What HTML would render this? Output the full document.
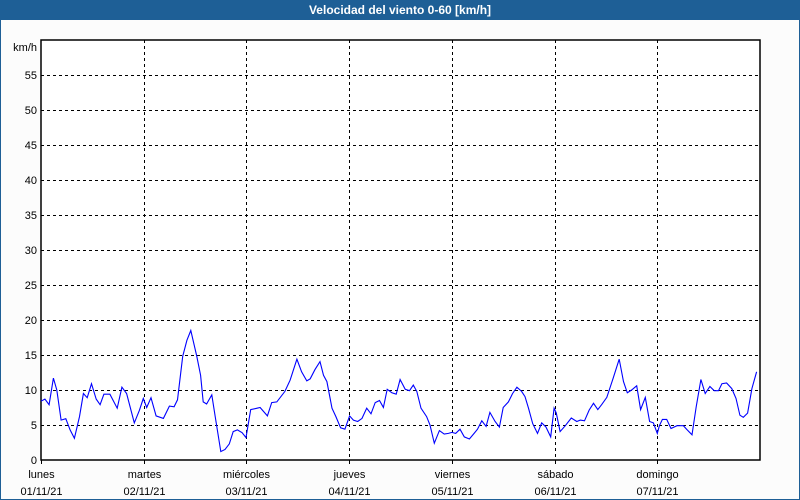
<!DOCTYPE html>
<html><head><meta charset="utf-8"><style>
body{margin:0;width:800px;height:500px;overflow:hidden;background:#fff;font-family:"Liberation Sans",sans-serif}
#win{position:absolute;left:0;top:0;width:798px;height:498px;border:1px solid #1e5f96;background:#fcfcfc}
#title{position:absolute;left:0;top:0;width:800px;height:20px;background:#1e5f96;color:#fff;font-weight:bold;font-size:12px;text-align:center;line-height:20px}
</style></head><body>
<div id="win"></div>
<div id="title">Velocidad del viento 0-60 [km/h]</div>
<svg id="chart" width="800" height="500" style="position:absolute;left:0;top:0"></svg>
<script>
const hours=[0,0.9,1.9,2.9,3.7,4.7,5.8,6.8,7.8,9.0,9.9,10.8,11.8,12.9,13.8,14.7,16.1,17.8,18.9,20.0,21.8,23.0,23.9,24.7,25.7,26.9,28.6,30.0,31.1,31.9,33.1,34.1,35.0,36.4,37.3,37.9,38.7,39.9,40.7,42.0,43.0,44.0,44.9,45.9,47.0,47.9,49.0,50.5,51.2,52.9,53.9,55.1,57.0,58.2,59.8,60.9,62.1,62.9,64.0,65.2,66.0,66.8,68.0,68.9,70.0,71.0,72.1,73.0,74.0,75.0,76.1,77.1,78.1,79.1,80.0,80.9,82.0,83.0,83.9,85.1,86.1,87.0,87.8,88.8,90.1,90.9,91.9,93.1,94.2,95.2,96.0,96.9,97.9,98.9,100.1,101.2,102.0,103.0,104.0,104.9,106.1,107.1,108.0,109.2,110.2,111.2,112.3,113.1,113.9,114.9,116.0,117.0,118.0,119.1,119.9,120.4,121.3,122.5,123.9,125.2,126.0,127.0,128.1,129.1,130.1,131.0,132.2,133.7,135.1,136.1,137.0,138.0,139.2,140.1,141.2,142.2,143.1,144.0,144.5,145.2,146.2,147.2,148.6,150.1,151.0,152.1,153.1,154.2,155.2,156.3,157.3,158.3,159.1,160.2,161.4,162.4,163.3,164.1,165.1,166.1,167.2];
const speeds=[8.4,8.7,7.9,11.7,10,5.7,5.9,4.3,3.1,6.2,9.5,8.9,10.9,8.7,7.9,9.4,9.4,7.4,10.4,9.5,5.3,7.1,8.8,7.5,8.9,6.3,5.95,7.7,7.6,8.6,14.8,17.1,18.5,14.8,12.1,8.3,8.0,9.3,6.2,1.2,1.5,2.3,4.05,4.3,3.9,3.2,7.2,7.4,7.5,6.3,8.2,8.3,9.8,11.4,14.4,12.6,11.3,11.6,12.9,14.05,12.1,11.2,7.4,6.2,4.6,4.4,6.3,5.7,5.5,5.95,7.4,6.6,8.2,8.5,7.5,10.1,9.6,9.4,11.5,10.1,9.9,10.7,9.8,7.4,6.2,5.0,2.4,4.2,3.7,3.8,3.95,3.8,4.4,3.3,3.0,3.8,4.4,5.6,4.8,6.8,5.5,4.7,7.5,8.3,9.5,10.4,9.8,9.05,7.4,5.2,3.8,5.3,4.7,3.3,7.4,6.7,4.05,4.9,6.0,5.5,5.7,5.6,7.14,8.1,7.2,7.9,8.95,11.7,14.4,11.2,9.6,10.0,10.6,7.2,8.95,5.5,5.3,3.8,4.9,5.8,5.8,4.5,4.9,4.9,4.3,3.6,7.6,11.5,9.5,10.5,9.9,9.9,10.9,11.0,10.2,8.8,6.4,6.1,6.7,10.2,12.6];
const yTicks=[0,5,10,15,20,25,30,35,40,45,50,55];
const dayNames=["lunes","martes","miércoles","jueves","viernes","sábado","domingo"];
const dayDates=["01/11/21","02/11/21","03/11/21","04/11/21","05/11/21","06/11/21","07/11/21"];
const X0=41,X1=760,Y0=460,Y1=40,HMAX=168,VMAX=60;
const xs=h=>X0+(X1-X0)*h/HMAX;
const ys=v=>Y0-(Y0-Y1)*v/VMAX;
const svg=document.getElementById('chart');
const NS='http://www.w3.org/2000/svg';
function mk(t,a){const e=document.createElementNS(NS,t);for(const k in a)e.setAttribute(k,a[k]);svg.appendChild(e);return e;}
const bg=mk('rect',{x:X0,y:Y1,width:X1-X0,height:Y0-Y1,fill:'#fff',stroke:'#000','stroke-width':1.5});


yTicks.forEach(v=>{
  if(v>0){const g=mk('line',{x1:X0,x2:X1,y1:ys(v)+.5,y2:ys(v)+.5,stroke:'#000','stroke-dasharray':'3,3'});
  
  }
  const t=mk('text',{x:37,y:ys(v)+4,'text-anchor':'end','font-size':11,fill:'#000'});
  t.textContent=v;
  
  
});
const u=mk('text',{x:37,y:51,'text-anchor':'end','font-size':11});
u.textContent='km/h';


dayNames.forEach((d,i)=>{
  const x=Math.round(xs(i*24))+.5;
  if(i>0){const g=mk('line',{x1:x,x2:x,y1:Y1,y2:Y0,stroke:'#000','stroke-dasharray':'3,3'});
  
  }
  const tk=mk('line',{x1:x,x2:x,y1:Y0,y2:Y0+4,stroke:'#000'});
  
  
  const t1=mk('text',{x:x,y:478,'text-anchor':'middle','font-size':11});
  t1.textContent=d;
  
  
  const t2=mk('text',{x:x,y:495,'text-anchor':'middle','font-size':11});
  t2.textContent=dayDates[i];
  
  
});
const pts=hours.map((h,i)=>xs(h).toFixed(1)+','+ys(speeds[i]).toFixed(1)).join(' ');
const pl=mk('polyline',{points:pts,fill:'none',stroke:'#0000ff','stroke-width':1.1});


</script>
</body></html>
